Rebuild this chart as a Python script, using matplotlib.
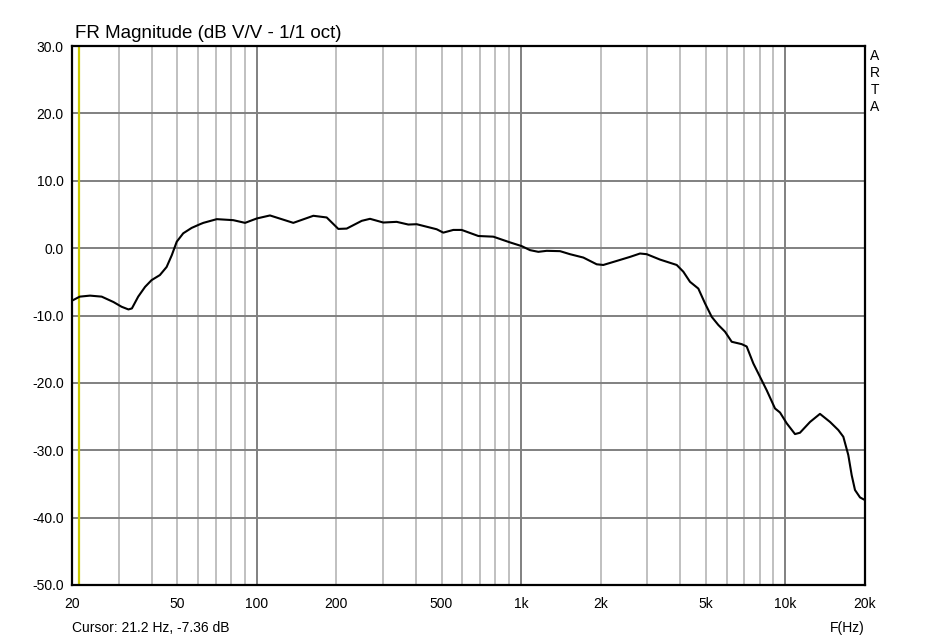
import numpy as np
import matplotlib
matplotlib.use('Agg')
import matplotlib.pyplot as plt
from matplotlib.ticker import FixedLocator, NullFormatter

plt.rcParams['font.family'] = ['Liberation Sans', 'DejaVu Sans']

# frequency response (Hz, dB)
freq = [20, 21.4, 23.4, 25.9, 28.7, 30.8, 32.7, 33.7, 35.6, 37.8, 40.0, 43.0,
        45.6, 47.7, 49.8, 52.7, 56.7, 61.0, 62.8, 70.6, 81.5, 90.3, 100,
        112.2, 137.5, 163.7, 183.9, 203.5, 218.9, 249.5, 268.2, 301.1, 338.3,
        374.4, 402.7, 479.4, 507.8, 554, 596, 689, 785, 908, 1005, 1081, 1162,
        1250, 1404, 1531, 1720, 1932, 2046, 2300, 2583, 2818, 2987, 3354,
        3879, 4109, 4355, 4682, 4964, 5262, 5572, 5907, 6263, 6832, 7136,
        7558, 8013, 8496, 9133, 9540, 10111, 10870, 11350, 12390, 13510,
        14750, 15850, 16560, 17290, 17810, 18330, 19150, 20000]
mag = [-7.8, -7.2, -7.05, -7.2, -8.0, -8.7, -9.1, -8.95, -7.2, -5.75, -4.75,
       -4.0, -2.8, -1.05, 0.95, 2.2, 3.0, 3.55, 3.75, 4.3, 4.15, 3.75, 4.4,
       4.85, 3.75, 4.8, 4.55, 2.85, 2.9, 4.05, 4.35, 3.8, 3.9, 3.5, 3.55,
       2.8, 2.3, 2.7, 2.7, 1.8, 1.7, 0.85, 0.3, -0.3, -0.55, -0.4, -0.45,
       -0.9, -1.4, -2.4, -2.5, -1.9, -1.3, -0.8, -0.9, -1.7, -2.5, -3.5, -5.0,
       -6.0, -8.2, -10.2, -11.4, -12.4, -13.9, -14.25, -14.6, -17.1, -19.1,
       -21.1, -23.8, -24.4, -26.0, -27.6, -27.4, -25.8, -24.6, -25.8, -27.0,
       -28.0, -30.7, -33.7, -35.9, -37.0, -37.4]

cursor_f = 21.2
cursor_db = -7.36

major_x = [100, 1000, 10000]
minor_x = [30, 40, 50, 60, 70, 80, 90, 200, 300, 400, 500, 600, 700, 800, 900,
           2000, 3000, 4000, 5000, 6000, 7000, 8000, 9000]
xtick_vals = [20, 50, 100, 200, 500, 1000, 2000, 5000, 10000, 20000]
xtick_lbls = ['20', '50', '100', '200', '500', '1k', '2k', '5k', '10k', '20k']
ytick_vals = [-50, -40, -30, -20, -10, 0, 10, 20, 30]

fig = plt.figure(figsize=(9.37, 6.41), dpi=100)
W, H = 937, 641
ax = fig.add_axes([72 / W, (H - 585) / H, 793 / W, 539 / H])

ax.set_xscale('log')
ax.set_xlim(20, 20000)
ax.set_ylim(-50, 30)

# grid
for f in minor_x:
    ax.axvline(f, color='#c0c0c0', lw=1.4, zorder=1)
for f in major_x:
    ax.axvline(f, color='#808080', lw=1.4, zorder=1)
for y in ytick_vals[1:-1]:
    ax.axhline(y, color='#808080', lw=1.4, zorder=1)

ax.axvline(cursor_f, color='#c8c800', lw=1.6, zorder=2)
ax.plot(freq, mag, color='black', lw=1.5, zorder=3)

for s in ax.spines.values():
    s.set_linewidth(1.6)
    s.set_color('black')

ax.xaxis.set_major_locator(FixedLocator(xtick_vals))
ax.xaxis.set_minor_locator(FixedLocator([]))
ax.xaxis.set_minor_formatter(NullFormatter())
ax.set_xticklabels(xtick_lbls)
ax.set_yticks(ytick_vals)
ax.set_yticklabels(['%.1f' % v for v in ytick_vals])
ax.tick_params(axis='both', length=0, labelsize=10, colors='black')
ax.tick_params(axis='x', pad=9)
ax.tick_params(axis='y', pad=6)

fig.text(75 / W, 1 - 33 / H, 'FR Magnitude (dB V/V - 1/1 oct)', fontsize=13.5,
         va='center', ha='left')
fig.text(72 / W, 1 - 628 / H, 'Cursor: %.1f Hz, %.2f dB' % (cursor_f, cursor_db),
         fontsize=10, va='center', ha='left')
fig.text(865 / W, 1 - 628 / H, 'F(Hz)', fontsize=10, va='center', ha='right')
for i, ch in enumerate('ARTA'):
    fig.text(875 / W, 1 - (56 + 17 * i) / H, ch, fontsize=10, va='center', ha='center')

fig.savefig('out.png', dpi=100)
